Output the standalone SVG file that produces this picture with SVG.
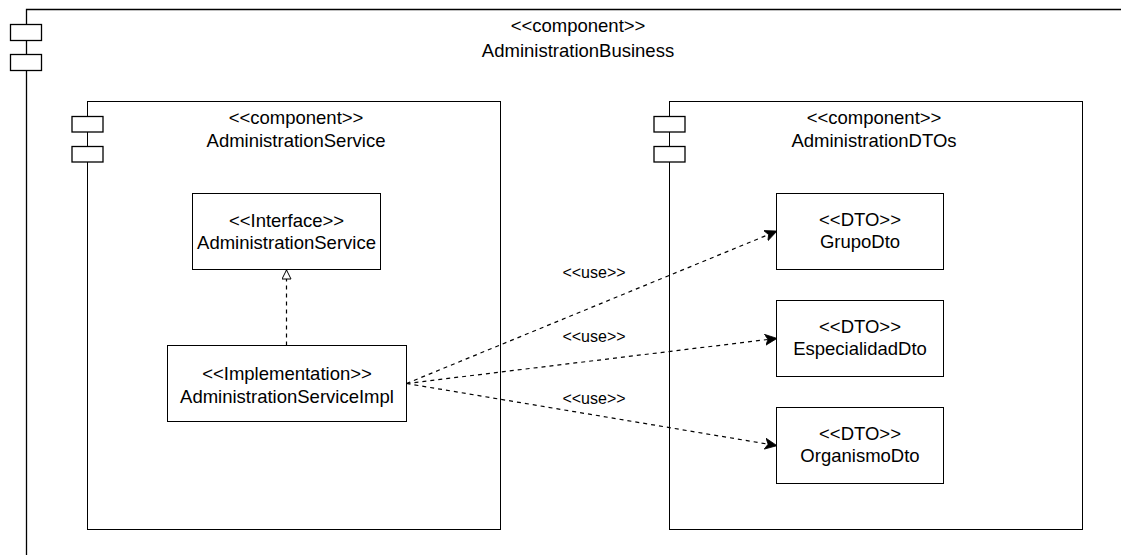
<svg xmlns="http://www.w3.org/2000/svg" width="1121" height="555" viewBox="0 0 1121 555">
  <style>
    .box { fill: #ffffff; stroke: #000000; stroke-width: 1; }
    .port { fill: #ffffff; stroke: #000000; stroke-width: 1.3; }
    .frame { fill: none; stroke: #000000; stroke-width: 1.3; }
    text { font-family: "Liberation Sans", Arial, sans-serif; font-size: 18.5px; fill: #000000; text-anchor: middle; }
    .lbl { font-size: 16px; }
    .dep { fill: none; stroke: #000000; stroke-width: 1.2; stroke-dasharray: 4 4; }
  </style>
  <defs>
    <marker id="arrow" viewBox="0 0 12 12" refX="11" refY="6" markerWidth="12" markerHeight="12" markerUnits="userSpaceOnUse" orient="auto">
      <path d="M0,0.5 L12,6 L0,11.5 L3,6 Z" fill="#000000" stroke="#000000" stroke-width="0.8"/>
    </marker>
    <marker id="realize" viewBox="0 0 10 10" refX="9.5" refY="5" markerWidth="10" markerHeight="10" markerUnits="userSpaceOnUse" orient="auto">
      <path d="M0.5,0.5 L9.5,5 L0.5,9.5 Z" fill="#ffffff" stroke="#000000" stroke-width="1"/>
    </marker>
  </defs>
  <rect width="1121" height="555" fill="#ffffff"/>

  <!-- outer component -->
  <g id="administration-business">
    <path class="frame" d="M26.5,560 L26.5,9.5 L1130,9.5"/>
    <rect class="port" x="10.5" y="24.5" width="31" height="16"/>
    <rect class="port" x="10.5" y="54.5" width="31" height="16"/>
    <text x="578" y="32">&lt;&lt;component&gt;&gt;</text>
    <text x="578" y="57">AdministrationBusiness</text>
  </g>

  <!-- service component -->
  <g id="administration-service">
    <rect class="box" x="87.5" y="101.5" width="413" height="428"/>
    <rect class="port" x="72" y="116.5" width="31" height="15.5"/>
    <rect class="port" x="72" y="146.5" width="31" height="15.5"/>
    <text x="296" y="124">&lt;&lt;component&gt;&gt;</text>
    <text x="296" y="147">AdministrationService</text>
  </g>

  <!-- DTO component -->
  <g id="administration-dtos">
    <rect class="box" x="669.5" y="101.5" width="413" height="428"/>
    <rect class="port" x="654" y="116.5" width="31" height="15.5"/>
    <rect class="port" x="654" y="146.5" width="31" height="15.5"/>
    <text x="874" y="124">&lt;&lt;component&gt;&gt;</text>
    <text x="874" y="147">AdministrationDTOs</text>
  </g>

  <g id="interface-administration-service">
    <rect class="box" x="192.5" y="193.5" width="188" height="76"/>
    <text x="286.5" y="226.5">&lt;&lt;Interface&gt;&gt;</text>
    <text x="286.5" y="248.5">AdministrationService</text>
  </g>

  <g id="administration-service-impl">
    <rect class="box" x="167.5" y="345.5" width="239" height="76"/>
    <text x="287" y="380">&lt;&lt;Implementation&gt;&gt;</text>
    <text x="287" y="403">AdministrationServiceImpl</text>
  </g>

  <g id="grupo-dto">
    <rect class="box" x="776.5" y="193.5" width="167" height="76"/>
    <text x="860" y="226">&lt;&lt;DTO&gt;&gt;</text>
    <text x="860" y="248">GrupoDto</text>
  </g>

  <g id="especialidad-dto">
    <rect class="box" x="776.5" y="300.5" width="167" height="76"/>
    <text x="860" y="333">&lt;&lt;DTO&gt;&gt;</text>
    <text x="860" y="355">EspecialidadDto</text>
  </g>

  <g id="organismo-dto">
    <rect class="box" x="776.5" y="407.5" width="167" height="76"/>
    <text x="860" y="440">&lt;&lt;DTO&gt;&gt;</text>
    <text x="860" y="462">OrganismoDto</text>
  </g>

  <!-- connectors -->
  <g id="connectors">
    <path class="dep" d="M286.5,345.5 L286.5,270" marker-end="url(#realize)"/>
    <path class="dep" d="M406.5,383.5 L776,231.5" marker-end="url(#arrow)"/>
    <path class="dep" d="M406.5,383.5 L776,338.5" marker-end="url(#arrow)"/>
    <path class="dep" d="M406.5,383.5 L776,445.5" marker-end="url(#arrow)"/>
    <text class="lbl" x="594" y="278">&lt;&lt;use&gt;&gt;</text>
    <text class="lbl" x="594" y="342">&lt;&lt;use&gt;&gt;</text>
    <text class="lbl" x="594" y="404">&lt;&lt;use&gt;&gt;</text>
  </g>
</svg>
